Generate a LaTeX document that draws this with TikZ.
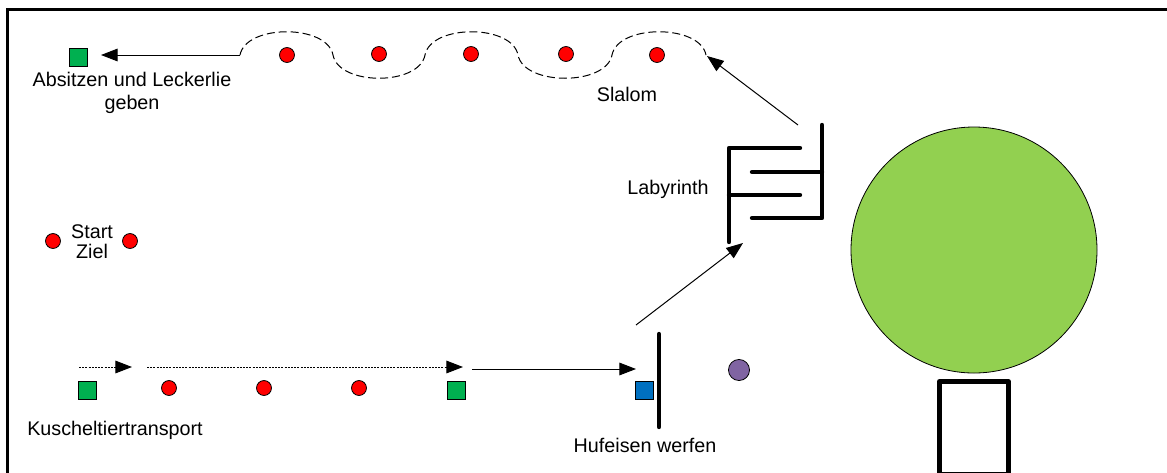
\documentclass[tikz,border=0pt]{standalone}
\usepackage{fontspec}
\setmainfont{Liberation Sans}
\usetikzlibrary{arrows.meta}
\definecolor{cone}{HTML}{FF0000}
\definecolor{station}{HTML}{00B050}
\definecolor{hufeisen}{HTML}{0070C0}
\definecolor{pin}{HTML}{8064A2}
\definecolor{wiese}{HTML}{92D050}
\tikzset{
  conenode/.style={circle,draw=black,fill=cone,line width=0.6pt,inner sep=0pt,minimum size=11.2pt},
  squarenode/.style={rectangle,draw=black,line width=0.6pt,inner sep=0pt,minimum size=13.5pt},
  lbl/.style={inner sep=0pt,align=center,font=\fontsize{14.8}{17.2}\selectfont},
  wall/.style={line width=3.3pt,line cap=round,line join=round},
  run/.style={line width=0.75pt,-{Triangle[length=12.5pt,width=9.5pt]}},
  dotrun/.style={run,dash pattern=on 1.5pt off 0.9pt},
}
\begin{document}
\begin{tikzpicture}[x=0.75pt,y=-0.75pt]
        \useasboundingbox (0,0) rectangle (1167,472);
        \draw[line width=2.6pt] (7.5,474) -- (7.5,9.5) -- (1169,9.5);

        % stations
        \foreach \name/\x/\y in {sa/287/55,sb/379/54,sc/471/54,sd/566/54,se/657/55,
                                 ka/169/388,kb/264/388,kc/359/388,start/53/241,ziel/130/241}
        {\node[conenode] (\name) at (\x,\y) {};}
        \node[squarenode,fill=station] (absitzen) at (78,57) {};
        \node[squarenode,fill=station] (kstart) at (87,390) {};
        \node[squarenode,fill=station] (kend) at (456,390) {};
        \node[squarenode,fill=hufeisen] (wurf) at (644.5,390) {};
        \node[circle,draw=black,fill=pin,line width=0.6pt,inner sep=0pt,minimum size=15.8pt] (pflock) at (739,370) {};
        \node[circle,draw=black,fill=wiese,line width=0.6pt,inner sep=0pt,minimum size=184.5pt] (wiese) at (974,250) {};

        % labels
        \node[lbl] (labsitzen) at (132,93) {Absitzen und Leckerlie\\geben};
        \node[lbl] (lslalom) at (627,94) {Slalom};
        \node[lbl] (llabyrinth) at (668,189) {Labyrinth};
        \node[lbl,font=\fontsize{14.8}{15}\selectfont] (lstart) at (92,242) {Start\\Ziel};
        \node[lbl] (ltransport) at (115,430) {Kuscheltiertransport};
        \node[lbl] (lwerfen) at (645,445) {Hufeisen werfen};

        % walls
        \draw[wall] (800,148) -- (729,148) -- (729,242);
        \draw[wall] (729,195) -- (800,195);
        \draw[wall] (822,125) -- (822,218) -- (752,218);
        \draw[wall] (752,172) -- (822,172);
        \draw[wall] (659,334) -- (659,427);
        \draw[wall,line width=3.5pt] (939.3,381.5) rectangle (1008.3,474.3);

        % slalom path
        \coordinate (sl0) at (240,55);
        \coordinate (sl1) at (333,55);
        \coordinate (sl2) at (425,55);
        \coordinate (sl3) at (518,55);
        \coordinate (sl4) at (612,55);
        \coordinate (sl5) at (706,55);
        \draw[dashed,line width=0.75pt,dash pattern=on 6pt off 3pt]
          (sl0) .. controls (246,24) and (327,24) .. (sl1)
                .. controls (339,86) and (419,86) .. (sl2)
                .. controls (431,24) and (512,24) .. (sl3)
                .. controls (524,86) and (606,86) .. (sl4)
                .. controls (618,24) and (700,24) .. (sl5);

        % course arrows
        \coordinate (a0) at (79,367);
        \coordinate (a1) at (132,367);
        \coordinate (a2) at (147,367);
        \coordinate (a3) at (463,367);
        \coordinate (a4) at (472,369);
        \coordinate (a5) at (636,369);
        \coordinate (a6) at (636,325);
        \coordinate (a7) at (743,243);
        \coordinate (a8) at (798,125);
        \coordinate (a9) at (707,56);
        \coordinate (a10) at (101,55);
        \draw[dotrun] (a0) -- (a1);
        \draw[dotrun] (a2) -- (a3);
        \draw[run] (a4) -- (a5);
        \draw[run] (a6) -- (a7);
        \draw[run] (a8) -- (a9);
        \draw[run] (sl0) -- (a10);
\end{tikzpicture}
\end{document}
